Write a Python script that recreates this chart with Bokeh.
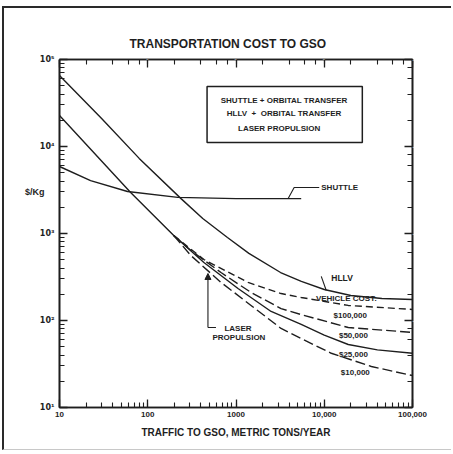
from bokeh.plotting import figure
from bokeh.models import (Range1d, LogAxis, LogTicker, FixedTicker, Label, BoxAnnotation,
                          Arrow, NormalHead)
from bokeh.embed import file_html
from bokeh.resources import INLINE

# ---------------- data ----------------
shuttle_x = [10, 22.5, 59, 219, 1000, 5480]
shuttle_y = [5890, 4060, 3040, 2600, 2520, 2520]

hllv_x = [10, 30, 80, 240, 420, 800, 1400, 3200, 5500, 10000, 20000, 45000, 100000]
hllv_y = [65500, 21000, 7300, 2500, 1490, 900, 590, 356, 281, 227, 194, 179, 174]

laser25_x = [10, 64, 197, 433, 1054, 2500, 5480, 10000, 18700, 40000, 100000]
laser25_y = [22700, 2960, 948, 464, 233, 127, 90, 68, 53, 46, 42]

laser100_x = [197, 433, 1370, 3240, 5480, 18700, 100000]
laser100_y = [948, 502, 274, 204, 184, 149, 134]

laser50_x = [197, 308, 676, 1480, 3240, 5480, 18700, 100000]
laser50_y = [948, 638, 356, 210, 137, 117, 83, 73]

laser10_x = [197, 308, 676, 1480, 3240, 5480, 12000, 34200, 100000]
laser10_y = [948, 558, 274, 149, 81, 62, 42, 29.6, 23.3]

x_tick_labels = {10: "10", 100: "100", 1000: "1000", 10000: "10,000", 100000: "100,000"}
y_tick_labels = {10: "10\u00b9", 100: "10\u00b2", 1000: "10\u00b3", 10000: "10\u2074", 100000: "10\u2075"}

title_text = "TRANSPORTATION COST TO GSO"
xlabel_text = "TRAFFIC TO GSO, METRIC TONS/YEAR"
ylabel_text = "$/Kg"
ylabel_at = 2960
legend_lines = ["SHUTTLE + ORBITAL TRANSFER", "HLLV \u00a0+\u00a0 ORBITAL TRANSFER", "LASER PROPULSION"]
cost_labels = ["$100,000", "$50,000", "$25,000", "$10,000"]

# ---------------- styling / layout ----------------
INK = "#1e1e1e"
FONT = "Liberation Sans"

p = figure(width=449, height=444, x_axis_type="log", y_axis_type="log",
           x_range=Range1d(10, 100000), y_range=Range1d(10, 100000),
           output_backend="svg", toolbar_location=None,
           min_border_left=55, min_border_right=41, min_border_top=51, min_border_bottom=45)
p.styles = {"border-left": "2px solid #2a2a2a", "border-top": "2px solid #2a2a2a",
            "border-bottom": "1px solid #c8c8c8",
            "margin-left": "2px", "margin-top": "6px"}
p.xgrid.visible = False
p.ygrid.visible = False
p.outline_line_color = INK
p.outline_line_width = 1.6
p.background_fill_color = "white"
p.border_fill_color = "white"

p.title.text = title_text
p.title.align = "left"
p.title.offset = 70
p.title.text_font = FONT
p.title.text_font_style = "bold"
p.title.text_font_size = "12px"
p.title.text_color = INK
p.title.standoff = 8

def style_axis(ax, labels=True):
    ax.axis_line_color = INK
    ax.axis_line_width = 1.6
    ax.major_tick_line_color = INK
    ax.minor_tick_line_color = INK
    ax.major_tick_line_width = 1.3
    ax.minor_tick_line_width = 1.1
    ax.major_tick_in = 8
    ax.major_tick_out = 0
    ax.minor_tick_in = 5
    ax.minor_tick_out = 0
    if labels:
        ax.major_label_text_font = FONT
        ax.major_label_text_font_style = "bold"
        ax.major_label_text_font_size = "8px"
        ax.major_label_text_color = INK
        ax.major_label_standoff = 4
    else:
        ax.major_label_text_font_size = "2px"
        ax.major_label_text_color = "white"
        ax.major_label_standoff = 0

style_axis(p.xaxis[0])
style_axis(p.yaxis[0])
p.xaxis[0].major_label_overrides = x_tick_labels
p.xaxis[0].axis_label = xlabel_text
p.xaxis[0].axis_label_text_font = FONT
p.xaxis[0].axis_label_text_font_style = "bold"
p.xaxis[0].axis_label_text_font_size = "10px"
p.xaxis[0].axis_label_text_color = INK
p.xaxis[0].axis_label_standoff = 7
p.yaxis[0].major_label_overrides = y_tick_labels
p.yaxis[0].major_label_text_font = "DejaVu Sans"
p.yaxis[0].major_label_text_font_size = "8px"
p.yaxis[0].major_label_standoff = 5

# "$/Kg" written as the single label of an extra, invisible left axis
ylab_ax = LogAxis(ticker=FixedTicker(ticks=[ylabel_at]),
                  major_label_overrides={ylabel_at: ylabel_text})
ylab_ax.axis_line_color = None
ylab_ax.major_tick_line_color = None
ylab_ax.minor_tick_line_color = None
ylab_ax.major_label_text_font = FONT
ylab_ax.major_label_text_font_style = "bold"
ylab_ax.major_label_text_font_size = "9px"
ylab_ax.major_label_text_color = INK
ylab_ax.major_label_standoff = -14
p.add_layout(ylab_ax, "left")

top_ax = LogAxis(ticker=LogTicker())
right_ax = LogAxis(ticker=LogTicker())
style_axis(top_ax, labels=False)
style_axis(right_ax, labels=False)
p.add_layout(top_ax, "above")
p.add_layout(right_ax, "right")

# ---------------- curves ----------------
lw = 1.4
p.line(shuttle_x, shuttle_y, line_color=INK, line_width=lw)
p.line(hllv_x, hllv_y, line_color=INK, line_width=lw)
p.line(laser25_x, laser25_y, line_color=INK, line_width=lw)
p.line(laser100_x, laser100_y, line_color=INK, line_width=lw, line_dash="7 4")
p.line(laser50_x, laser50_y, line_color=INK, line_width=lw, line_dash="10 4")
p.line(laser10_x, laser10_y, line_color=INK, line_width=lw, line_dash="10 4")

# ---------------- texts inside the frame ----------------
def lab(x, y, text, size="8px", align="center", baseline="middle", font=FONT):
    p.add_layout(Label(x=x, y=y, text=text, text_font=font, text_font_size=size,
                       text_font_style="bold", text_color=INK,
                       text_align=align, text_baseline=baseline))

# legend box (text only, as in the original)
p.add_layout(BoxAnnotation(left=470, right=27000, bottom=11100, top=49000,
                           fill_color=None, fill_alpha=0, line_color=INK,
                           line_alpha=1.0, line_width=1.5))
lab(3510, 33800, legend_lines[0], size="8px")
lab(3510, 23900, legend_lines[1], size="8px")
lab(3080, 16100, legend_lines[2], size="8px")

# shuttle label + leader
p.line([3900, 4560, 8770], [2520, 3380, 3380], line_color=INK, line_width=1.1)
lab(9250, 3380, "SHUTTLE", align="left")

# HLLV label + leader
p.line([9250, 10540], [321, 221], line_color=INK, line_width=1.1)
lab(12000, 304, "HLLV", align="left", size="8.5px")

lab(17800, 177, "VEHICLE COST:", size="8px")
lab(19700, 114, cost_labels[0])
lab(21400, 67, cost_labels[1])
lab(21400, 40.6, cost_labels[2])
lab(22500, 25.2, cost_labels[3])

# laser propulsion leader
p.line([593, 481], [83, 83], line_color=INK, line_width=1.1)
p.add_layout(Arrow(end=NormalHead(size=6, fill_color=INK, line_color=INK),
                   x_start=481, y_start=83, x_end=481, y_end=347,
                   line_color=INK, line_width=1.1))
lab(1054, 81, "LASER", size="8px")
lab(1080, 64, "PROPULSION", size="8px")

open("out.html", "w").write(file_html(p, INLINE))
